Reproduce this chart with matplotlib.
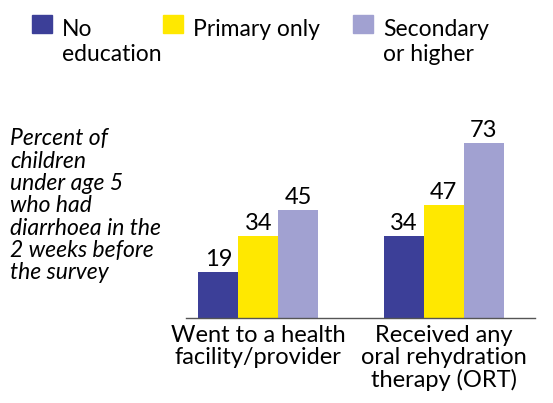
import matplotlib
matplotlib.use("Agg")
import matplotlib.pyplot as plt
from matplotlib.patches import Rectangle
import numpy as np

plt.rcParams['font.family'] = ['Lato', 'DejaVu Sans']

# Data
categories = ['Went to a health\nfacility/provider', 'Received any\noral rehydration\ntherapy (ORT)']
series_names = ['No\neducation', 'Primary only', 'Secondary\nor higher']
no_education = [19, 34]
primary_only = [34, 47]
secondary_higher = [45, 73]
colors = ['#3C3F98', '#FFE800', '#A1A1D1']

fig = plt.figure(figsize=(5.53, 4.03), dpi=100)
ax = fig.add_axes([0.336, 0.211, 0.631, 0.476])

x = np.arange(len(categories))
w = 0.215
for i, (vals, c) in enumerate(zip([no_education, primary_only, secondary_higher], colors)):
    pos = x + (i - 1) * w
    ax.bar(pos, vals, width=w, color=c)
    for p, v in zip(pos, vals):
        ax.text(p, v + 1.0, str(v), ha='center', va='bottom', fontsize=17)

ax.set_xlim(-0.39, 1.49)
ax.set_ylim(0, 80)
ax.set_yticks([])
ax.set_xticks(x)
ax.set_xticklabels(categories, fontsize=17, linespacing=1.06)
ax.tick_params(axis='x', length=0, pad=5)
for s in ['top', 'left', 'right']:
    ax.spines[s].set_visible(False)
ax.spines['bottom'].set_color('#555555')
ax.spines['bottom'].set_linewidth(1.0)

# side note
fig.text(0.018, 0.682, 'Percent of\nchildren\nunder age 5\nwho had\ndiarrhoea in the\n2 weeks before\nthe survey',
         ha='left', va='top', fontsize=16.5, style='italic', linespacing=1.08)

# legend drawn by hand
leg_x = [32, 163, 353]
for lx, name, c in zip(leg_x, series_names, colors):
    fig.patches.append(Rectangle((lx / 553, 1 - 33 / 403), 20 / 553, 18 / 403,
                                 transform=fig.transFigure, color=c))
    fig.text((lx + 30) / 553, 1 - 19 / 403, name, ha='left', va='top',
             fontsize=16.5, linespacing=1.22)

fig.savefig('out.png', dpi=100)
